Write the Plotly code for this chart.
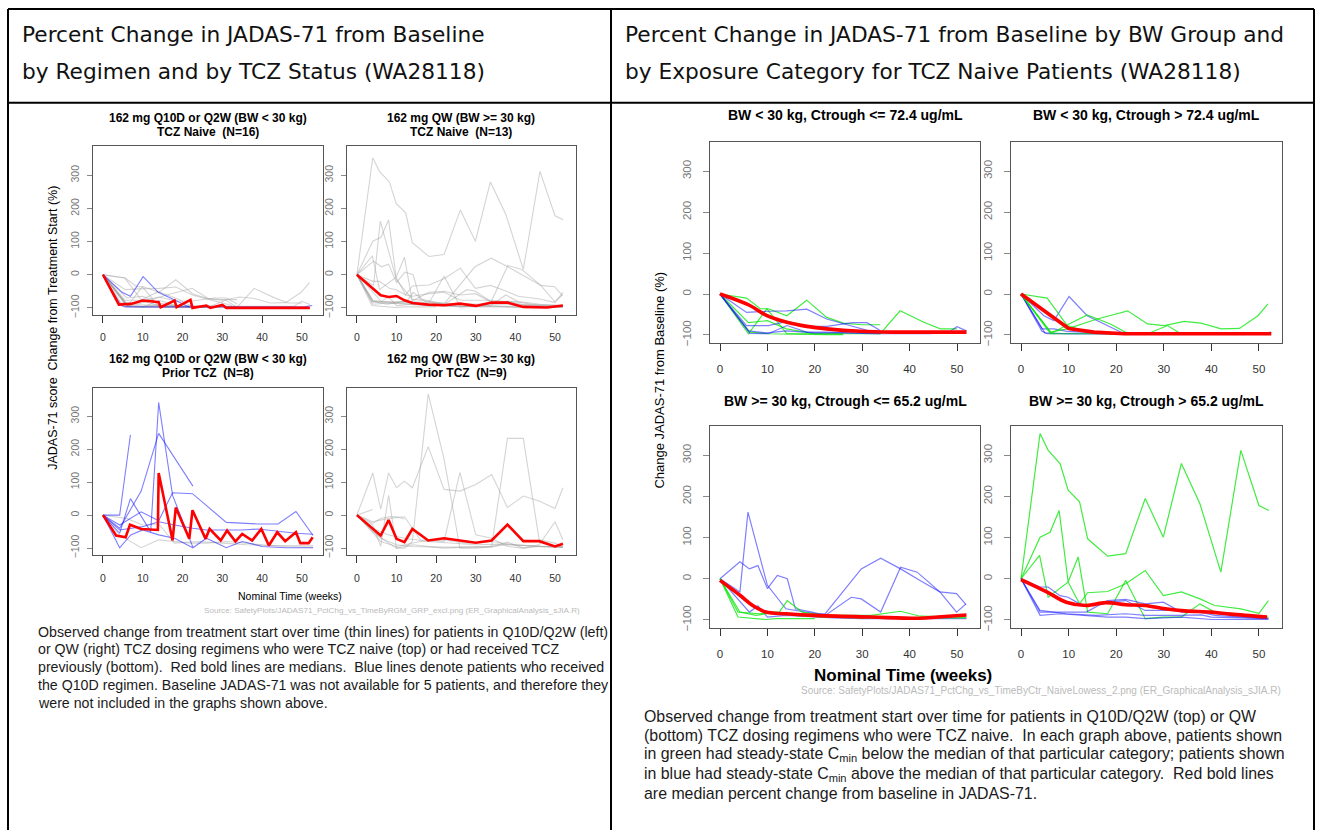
import plotly.graph_objects as go

# ------------------------------------------------------------------ data
WEEK_TICKS = [0, 10, 20, 30, 40, 50]
CHG_TICKS = [-100, 0, 100, 200, 300]

# TCZ-naive patients, BW < 30 kg (162 mg Q10D or Q2W), one row per patient
NAIVE_LT30_WEEKS = [
    [0, 5.6, 8.5, 10.2, 14.1, 18.3, 22.5, 26, 29.9, 33.8],
    [0, 6, 9.9, 14.1, 20, 26, 33.8, 38, 43, 46.5, 50],
    [0, 6.3, 10.2, 14.1, 18.3, 22.5, 26],
    [0, 6, 10, 14, 20, 26],
    [0, 5.6, 10.2, 14.1, 18.3, 22.5, 26.8, 32.4],
    [0, 5.6, 10.2, 14.1, 18.3, 22.5, 28, 31, 33.8],
    [0, 6.3, 10.2, 14.1, 18.3, 22.5, 29, 33.8],
    [0, 6, 10, 14, 20, 26, 32, 38, 44, 48, 50, 52],
    [0, 4.8, 6.9, 10.1, 13.9, 19.5, 21.7],
    [0, 4.4, 6.9, 9.7, 14, 19.5, 23.8],
    [0, 4.4, 5.5, 12, 19, 26, 33.6, 40, 46, 50.5, 52.6],
    [0, 5, 10, 16, 22, 30],
    [0, 5.5, 9.7, 13.9, 19, 22.4],
    [0, 6.2, 10.1, 13.9, 18.8, 22.4, 28],
    [0, 6.2, 9.7, 16, 22.4, 26.6, 30.1, 34.3, 37.8, 42.1, 45.9, 49.8, 51.9],
    [0, 6.5, 12, 20, 26.6, 30.8, 33.6],
]
NAIVE_LT30_CHG = [
    [0, -10, -36, -36, -53, -15, -57, -71, -75, -75],
    [0, -97, -36, -97, -97, -97, -97, -41, -69, -85, -85],
    [0, -93, -97, -98, -98, -99, -99],
    [0, -70, -65, -85, -97, -97],
    [0, -45, -42, -41, -37, -61, -75, -93],
    [0, -77, -77, -67, -79, -79, -70, -70, -89],
    [0, -96, -97, -77, -93, -93, -95, -97],
    [0, -90, -95, -90, -95, -95, -97, -97, -97, -95, -80, -90],
    [0, -53, -65, -6, -53, -85, -97],
    [0, -85, -85, -91, -93, -95, -97],
    [0, -91, -97, -96, -97, -97, -97, -98, -98, -97, -93],
    [0, -95, -97, -97, -98, -98],
    [0, -10, -77, -93, -95, -97],
    [0, -97, -73, -51, -73, -96, -96],
    [0, -93, -85, -61, -41, -73, -77, -67, -71, -85, -84, -53, -24],
    [0, -97, -97, -97, -97, -77, -97],
]
NAIVE_LT30_Q10D = [0, 0, 0, 0, 0, 0, 0, 0, 1, 0, 1, 0, 0, 0, 0, 0]
# 1 = steady-state Ctrough > 72.4 ug/mL
NAIVE_LT30_CTROUGH_HIGH = [0, 0, 0, 0, 0, 0, 0, 0, 1, 1, 1, 1, 1, 1, 1, 1]
# 1 = Cmin below the median of its Ctrough category
NAIVE_LT30_CMIN_LOW = [1, 1, 1, 1, 0, 0, 0, 0, 0, 0, 0, 0, 1, 1, 1, 1]

# TCZ-naive patients, BW >= 30 kg (162 mg QW)
NAIVE_GE30_WEEKS = [
    [0, 4.2, 6.2, 8, 10, 12.1, 14.2, 15.9, 19.4, 22.2, 27.7, 29.8, 33.9, 38.1, 41.6, 46.4, 49.9, 51.9],
    [0, 4.2, 5.9, 10, 13.9, 20.1, 22.2, 29.8, 33.9, 38.1, 42.2, 46.4, 49.9, 51.9],
    [0, 6.2, 8, 10, 13.9, 19.4, 24, 30, 36, 42, 48, 52],
    [0, 3.8, 8.3, 12.5, 14.2, 17.3, 22.2, 31.9, 38.1, 42.2, 51.9],
    [0, 3.8, 9.7, 11.8, 16, 20],
    [0, 4.2, 7.6, 11.8, 15.9, 22.2, 30, 38, 46, 52],
    [0, 4, 5.7, 8.2, 9.9, 12.3, 14, 18.2, 22, 26.1, 29.9, 33.7, 37.6, 42, 46.2, 50, 52.1],
    [0, 4, 6.1, 8, 9.9, 12, 14, 18.2, 22, 26.1, 29.9, 33.7, 37.6, 40.7, 46.2, 52],
    [0, 3.9, 5.7, 8, 9.9, 12.3, 14, 18.2, 22, 26.1, 29.9, 33.7, 37.6, 40.7, 46.2, 50, 52],
    [0, 4, 5.7, 8.2, 9.9, 12.3, 14, 18.2, 22, 26.1, 29.9, 33.7, 37.6, 40.7, 46.2, 52],
    [0, 4, 8.2, 12.3, 18.2, 22, 26.1, 33.7, 37.6, 40, 52],
    [0, 4, 13.7, 18.2, 22, 26.1, 29.9, 33.7, 40, 44, 52],
    [0, 4, 9.5, 15.8, 22, 26.1, 33, 37.9, 40, 51.7],
]
NAIVE_GE30_CHG = [
    [0, 41, 24, 32, -24, 8, 0, -73, -81, -89, -45, -49, -81, 28, 16, -32, -36, -63],
    [0, -32, 162, -16, -73, -85, -85, 24, 50, 24, -4, -32, -81, -61],
    [0, -81, -66, -93, -89, -93, -95, -97, -97, -97, -97, -97],
    [0, -81, -85, -81, -53, -81, -89, -89, -79, -91, -93],
    [0, -93, -99, -97, -97, -97],
    [0, -81, -89, -81, -89, -93, -95, -95, -95, -95],
    [0, 353, 312, 280, 215, 187, 97, 55, 61, 195, 101, 280, 182, 16, 312, 178, 166],
    [0, 101, 113, 166, -8, 53, -81, -85, -4, -97, -93, -93, -61, -81, -89, -93],
    [0, 57, -45, -24, -8, -61, -34, -31, -12, 20, -41, -32, -49, -65, -73, -84, -53],
    [0, -20, -20, -41, -45, -61, -65, -57, -53, -77, -77, -77, -81, -89, -93, -97],
    [0, -89, -85, -89, -93, -93, -97, -93, -97, -99, -99],
    [0, -81, -81, -53, -50, -61, -57, -81, -81, -89, -96],
    [0, -77, -85, -89, -85, -89, -89, -88, -93, -97],
]
# 1 = steady-state Ctrough > 65.2 ug/mL
NAIVE_GE30_CTROUGH_HIGH = [0, 0, 0, 0, 0, 0, 1, 1, 1, 1, 1, 1, 1]
NAIVE_GE30_CMIN_LOW = [0, 0, 0, 1, 1, 1, 1, 1, 1, 0, 0, 0, 0]

# Prior-TCZ patients, BW < 30 kg
PRIOR_LT30_WEEKS = [
    [0, 4.2, 6.9],
    [0, 4.2, 6.9, 9.6, 12, 14, 17.5, 22.6],
    [0, 4.2, 9.6, 14, 22.6],
    [0, 4.2, 9.6, 14, 17.5, 22.5, 31, 39, 44, 48.5, 52.8],
    [0, 4.2, 7, 10, 14, 18, 22.6, 26, 31, 35, 40, 46, 52.8],
    [0, 4.2, 10, 14, 18, 22.6, 26, 31, 35, 39, 44, 48.5, 52.8],
    [0, 4.2, 9.6, 14, 18, 22, 26, 31, 36, 40, 46, 52.8],
    [0, 6, 10, 14, 18, 24, 30, 36, 42, 48, 52.8],
]
PRIOR_LT30_CHG = [
    [0, 0, 243],
    [0, -55, 50, -5, -50, 342, 60, -97],
    [0, -40, 73, 248, 88],
    [0, -30, 10, -17, 68, 65, -22, -27, -27, 11, -62],
    [0, -99, -60, -45, -60, -70, -99, -70, -99, -80, -95, -99, -99],
    [0, -45, -35, -20, -30, -40, -45, -45, -45, -42, -50, -55, -58],
    [0, -60, -99, -75, -80, -85, -85, -80, -85, -90, -95, -98],
    [0, -10, -30, -27, -85, -80, -85, -90, -92, -93, -93],
]
PRIOR_LT30_Q10D = [1, 1, 1, 1, 1, 1, 0, 0]

# Prior-TCZ patients, BW >= 30 kg
PRIOR_GE30_WEEKS = [
    [0, 4, 6, 8, 10, 12, 14, 18, 22, 26, 30, 34, 38, 42, 46, 50, 52],
    [0, 4, 6, 8, 10, 12, 14, 18, 22, 26, 30, 34, 38, 42, 46, 50, 52],
    [0, 4, 8, 12, 16, 22, 26, 30, 34, 38, 42, 46, 50, 52],
    [0, 4],
    [0, 4, 6, 8, 10, 12],
    [0, 4, 8, 10, 14, 18, 22, 26, 30, 34, 38, 42, 46, 50, 52],
    [0, 6, 10, 14, 20, 26, 32, 38, 44, 50, 52],
    [0, 4, 8, 12, 18, 24, 30, 36, 42, 48, 52],
    [0, 6, 10, 16, 22, 28, 34, 40, 46, 52],
]
PRIOR_GE30_CHG = [
    [0, 128, 18, 128, 83, 103, 83, 208, 78, 73, 93, 123, 23, 58, 43, 20, 83],
    [0, -30, -95, 60, -100, -100, -80, 368, 170, -100, -100, -95, 233, 233, -75, -85, -95],
    [0, -20, -10, -5, -75, -80, 130, -60, -70, -95, -100, -95, -95, -98],
    [0, 17],
    [0, -25, -10, -5, -5, -12],
    [0, -50, -85, -100, -90, -95, -100, -98, -95, -97, -82, -100, -90, -20, -75],
    [0, -70, -90, -95, -97, -98, -97, -90, -95, -98, -98],
    [0, -40, -60, -70, -80, -85, -90, -88, -92, -95, -95],
    [0, -80, -95, -80, -75, -85, -80, -90, -95, -97],
]

# Median percent change by nominal week
MED_NAIVE_LT30_WEEKS = [0, 4, 7, 10, 12, 14, 14.5, 18, 18.5, 22, 22.5, 26, 27, 30, 31, 40, 52]
MED_NAIVE_LT30_CHG = [0, -90, -88, -78, -80, -83, -98, -78, -98, -76, -100, -93, -100, -91, -100, -100, -100]
MED_NAIVE_GE30_WEEKS = [0, 4, 6, 8, 10, 12, 14, 18, 22, 26, 30, 34, 38, 42, 48, 52]
MED_NAIVE_GE30_CHG = [0, -40, -62, -67, -64, -77, -85, -90, -92, -87, -94, -84, -84, -97, -99, -93]
MED_PRIOR_LT30_WEEKS = [0, 3.3, 5.7, 6.8, 9.6, 13.8, 14, 17.5, 18.3, 21.7, 22.5, 25.8, 26.8, 29.6, 31.2,
                        33.3, 35, 37.5, 39.8, 41.7, 43.8, 45.8, 48.5, 49.6, 51.7, 52.7]
MED_PRIOR_LT30_CHG = [0, -62, -67, -29, -42, -45, 128, -77, 23, -72, 15, -72, -42, -77, -47,
                      -80, -57, -77, -42, -92, -52, -79, -52, -85, -85, -67]
MED_PRIOR_GE30_WEEKS = [0, 6, 8, 10, 12, 14, 18, 22, 26, 30, 34, 38, 42, 46, 50, 52]
MED_PRIOR_GE30_CHG = [0, -62, -15, -72, -82, -42, -77, -70, -77, -84, -77, -29, -79, -79, -95, -87]

# Smoothed (lowess) median by exposure category
LOWESS_LT30_LO_WEEKS = [0, 6.3, 9.9, 14.1, 18.3, 22.5, 29.6, 36.6, 44, 52]
LOWESS_LT30_LO_CHG = [0, -28, -53, -69, -79, -85, -91, -93, -93, -93]
LOWESS_LT30_HI_WEEKS = [0, 10, 15.3, 21.7, 52.6]
LOWESS_LT30_HI_CHG = [0, -84, -93, -97, -97]
LOWESS_GE30_LO_WEEKS = [0, 4.2, 6.9, 9.7, 13.9, 20, 31.9, 42, 46, 52]
LOWESS_GE30_LO_CHG = [-4, -40, -65, -81, -85, -89, -93, -96, -93, -88]
LOWESS_GE30_HI_WEEKS = [0, 5.4, 9.5, 13.7, 17.8, 22, 26.1, 30.3, 34.4, 40, 44.1, 51.7]
LOWESS_GE30_HI_CHG = [-2, -32, -57, -65, -58, -63, -65, -73, -78, -81, -86, -93]

# ------------------------------------------------------------------ styling
FIG_W, FIG_H = 1321, 833
ARIAL = "Liberation Sans, Arial, sans-serif"
VERDANA = "DejaVu Sans, Verdana, sans-serif"
GREY = "rgba(160,160,160,0.45)"
BLUE = "rgba(20,20,255,0.55)"
GREEN = "rgba(0,230,0,0.75)"
RED = "#ff0000"


def fx(px):
    return px / FIG_W


def fy(py):
    return 1 - py / FIG_H


# panel boxes in page pixels: (left, top, right, bottom), axis ranges
LEFT_X = [-2.5, 55.3]
LEFT_Y = [-121, 387]
RIGHT_X = [-2.11, 54.85]
RIGHT_Y = [-119, 370]
PANELS = [
    ((93, 147, 323, 316), LEFT_X, LEFT_Y, "left"),
    ((347, 147, 576, 316), LEFT_X, LEFT_Y, "left"),
    ((93, 389, 323, 557), LEFT_X, LEFT_Y, "left"),
    ((347, 389, 576, 557), LEFT_X, LEFT_Y, "left"),
    ((710, 143, 980, 344), RIGHT_X, RIGHT_Y, "right"),
    ((1011, 143, 1282, 344), RIGHT_X, RIGHT_Y, "right"),
    ((710, 428, 980, 630), RIGHT_X, RIGHT_Y, "right"),
    ((1011, 428, 1282, 630), RIGHT_X, RIGHT_Y, "right"),
]

fig = go.Figure()


def axis_ids(k):
    return ("x" if k == 1 else f"x{k}"), ("y" if k == 1 else f"y{k}")


def add_line(k, weeks, chg, color, width=1.1, shape="linear"):
    xa, ya = axis_ids(k)
    fig.add_trace(go.Scatter(
        x=weeks, y=chg, mode="lines", xaxis=xa, yaxis=ya,
        line=dict(color=color, width=width, shape=shape),
        hoverinfo="skip", showlegend=False))


# Panel 1: TCZ naive, BW < 30 kg (grey = Q2W, blue = Q10D)
for w, c, q in zip(NAIVE_LT30_WEEKS, NAIVE_LT30_CHG, NAIVE_LT30_Q10D):
    if not q:
        add_line(1, w, c, GREY)
for w, c, q in zip(NAIVE_LT30_WEEKS, NAIVE_LT30_CHG, NAIVE_LT30_Q10D):
    if q:
        add_line(1, w, c, BLUE)
add_line(1, MED_NAIVE_LT30_WEEKS, MED_NAIVE_LT30_CHG, RED, 2.6)

# Panel 2: TCZ naive, BW >= 30 kg
for w, c in zip(NAIVE_GE30_WEEKS, NAIVE_GE30_CHG):
    add_line(2, w, c, GREY)
add_line(2, MED_NAIVE_GE30_WEEKS, MED_NAIVE_GE30_CHG, RED, 2.6)

# Panel 3: prior TCZ, BW < 30 kg
for w, c, q in zip(PRIOR_LT30_WEEKS, PRIOR_LT30_CHG, PRIOR_LT30_Q10D):
    if not q:
        add_line(3, w, c, GREY)
for w, c, q in zip(PRIOR_LT30_WEEKS, PRIOR_LT30_CHG, PRIOR_LT30_Q10D):
    if q:
        add_line(3, w, c, BLUE)
add_line(3, MED_PRIOR_LT30_WEEKS, MED_PRIOR_LT30_CHG, RED, 2.6)

# Panel 4: prior TCZ, BW >= 30 kg
for w, c in zip(PRIOR_GE30_WEEKS, PRIOR_GE30_CHG):
    add_line(4, w, c, GREY)
add_line(4, MED_PRIOR_GE30_WEEKS, MED_PRIOR_GE30_CHG, RED, 2.6)

# Panels 5-8: TCZ naive split by Ctrough category, coloured by Cmin vs category median
for k, weeks, chg, hi, low, want_hi in [
    (5, NAIVE_LT30_WEEKS, NAIVE_LT30_CHG, NAIVE_LT30_CTROUGH_HIGH, NAIVE_LT30_CMIN_LOW, 0),
    (6, NAIVE_LT30_WEEKS, NAIVE_LT30_CHG, NAIVE_LT30_CTROUGH_HIGH, NAIVE_LT30_CMIN_LOW, 1),
    (7, NAIVE_GE30_WEEKS, NAIVE_GE30_CHG, NAIVE_GE30_CTROUGH_HIGH, NAIVE_GE30_CMIN_LOW, 0),
    (8, NAIVE_GE30_WEEKS, NAIVE_GE30_CHG, NAIVE_GE30_CTROUGH_HIGH, NAIVE_GE30_CMIN_LOW, 1),
]:
    for w, c, h, lo in zip(weeks, chg, hi, low):
        if h == want_hi:
            add_line(k, w, c, GREEN if lo else BLUE, 1.2)

add_line(5, LOWESS_LT30_LO_WEEKS, LOWESS_LT30_LO_CHG, RED, 3.6, "spline")
add_line(6, LOWESS_LT30_HI_WEEKS, LOWESS_LT30_HI_CHG, RED, 3.6)
add_line(7, LOWESS_GE30_LO_WEEKS, LOWESS_GE30_LO_CHG, RED, 3.6, "spline")
add_line(8, LOWESS_GE30_HI_WEEKS, LOWESS_GE30_HI_CHG, RED, 3.6, "spline")

# ------------------------------------------------------------------ axes
layout_axes = {}
for k, (box, xr, yr, side) in enumerate(PANELS, start=1):
    x0, y0, x1, y1 = box
    xa, ya = axis_ids(k)
    small = side == "left"
    layout_axes["xaxis" + ("" if k == 1 else str(k))] = dict(
        domain=[fx(x0), fx(x1)], anchor=ya, range=xr,
        tickmode="array", tickvals=WEEK_TICKS,
        ticks="outside", ticklen=7, tickcolor="#333", tickwidth=1,
        ticklabelstandoff=6 if small else 8,
        tickfont=dict(family=ARIAL, size=10.5 if small else 11.5, color="#333"),
        showline=True, mirror=True, linecolor="#555", linewidth=1,
        showgrid=False, zeroline=False, fixedrange=True)
    layout_axes["yaxis" + ("" if k == 1 else str(k))] = dict(
        domain=[fy(y1), fy(y0)], anchor=xa, range=yr,
        tickmode="array", tickvals=CHG_TICKS, tickangle=-90,
        ticks="outside", ticklen=5 if small else 6, tickcolor="#888", tickwidth=1,
        ticklabelstandoff=4 if small else 7,
        tickfont=dict(family=ARIAL, size=10.5 if small else 11.5, color="#777"),
        showline=True, mirror=True, linecolor="#555", linewidth=1,
        showgrid=False, zeroline=False, fixedrange=True)

# ------------------------------------------------------------------ text
notes = []


def text(x, y, s, size, family=ARIAL, color="#000", xanchor="left", angle=0):
    notes.append(dict(
        x=fx(x), y=fy(y), xref="paper", yref="paper", text=s, showarrow=False,
        xanchor=xanchor, yanchor="middle", textangle=angle,
        font=dict(family=family, size=size, color=color)))


# table header
text(20, 35, "Percent Change in JADAS-71 from Baseline", 21.7, VERDANA, "#111")
text(20, 72, "by Regimen and by TCZ Status (WA28118)", 21.7, VERDANA, "#111")
text(623, 35, "Percent Change in JADAS-71 from Baseline by BW Group and", 21.7, VERDANA, "#111")
text(623, 72, "by Exposure Category for TCZ Naive Patients (WA28118)", 21.7, VERDANA, "#111")

# left-hand panel titles
for cx, top, l1, l2 in [
    (208, 118, "162 mg Q10D or Q2W (BW &lt; 30 kg)", "TCZ Naive\u00a0 (N=16)"),
    (461, 118, "162 mg QW (BW &gt;= 30 kg)", "TCZ Naive\u00a0 (N=13)"),
    (208, 360, "162 mg Q10D or Q2W (BW &lt; 30 kg)", "Prior TCZ\u00a0 (N=8)"),
    (461, 360, "162 mg QW (BW &gt;= 30 kg)", "Prior TCZ\u00a0 (N=9)"),
]:
    text(cx, top, "<b>" + l1 + "</b>", 12, xanchor="center")
    text(cx, top + 14, "<b>" + l2 + "</b>", 12, xanchor="center")

# right-hand panel titles
for cx, cy, s in [
    (845, 115, "BW &lt; 30 kg, Ctrough &lt;= 72.4 ug/mL"),
    (1146, 115, "BW &lt; 30 kg, Ctrough &gt; 72.4 ug/mL"),
    (845, 402, "BW &gt;= 30 kg, Ctrough &lt;= 65.2 ug/mL"),
    (1146, 402, "BW &gt;= 30 kg, Ctrough &gt; 65.2 ug/mL"),
]:
    text(cx, cy, "<b>" + s + "</b>", 14, xanchor="center")

# axis titles
text(53, 329, "JADAS-71 score\u00a0 Change from Treatment Start (%)", 12.5, angle=-90, xanchor="center")
text(290, 598, "Nominal Time (weeks)", 10.5, xanchor="center")
text(660, 382, "Change JADAS-71 from Baseline (%)", 13, angle=-90, xanchor="center")
text(903, 678, "<b>Nominal Time (weeks)</b>", 17, xanchor="center")

# source notes
text(582, 613, "Source: SafetyPlots/JADAS71_PctChg_vs_TimeByRGM_GRP_excl.png (ER_GraphicalAnalysis_sJIA.R)",
     8.1, color="#bbb", xanchor="right")
text(1283, 693, "Source: SafetyPlots/JADAS71_PctChg_vs_TimeByCtr_NaiveLowess_2.png (ER_GraphicalAnalysis_sJIA.R)",
     10, color="#bbb", xanchor="right")

# captions
LEFT_CAPTION = [
    "Observed change from treatment start over time (thin lines) for patients in Q10D/Q2W (left)",
    "or QW (right) TCZ dosing regimens who were TCZ naive (top) or had received TCZ",
    "previously (bottom).\u00a0 Red bold lines are medians.\u00a0 Blue lines denote patients who received",
    "the Q10D regimen. Baseline JADAS-71 was not available for 5 patients, and therefore they",
    "were not included in the graphs shown above.",
]
RIGHT_CAPTION = [
    "Observed change from treatment start over time for patients in Q10D/Q2W (top) or QW",
    "(bottom) TCZ dosing regimens who were TCZ naive.\u00a0 In each graph above, patients shown",
    "in green had steady-state C<sub>min</sub> below the median of that particular category; patients shown",
    "in blue had steady-state C<sub>min</sub> above the median of that particular category.\u00a0 Red bold lines",
    "are median percent change from baseline in JADAS-71.",
]
for i, s in enumerate(LEFT_CAPTION):
    text(36, 634 + i * 17.8, s, 14.2, color="#1a1a1a")
for i, s in enumerate(RIGHT_CAPTION):
    text(642, 719 + i * 19.3, s, 15.9, color="#1a1a1a")

# ------------------------------------------------------------------ table rules
rules = []
for x0, y0, x1, y1, w in [
    (8, 9, 1314, 9, 2),
    (8, 103, 1314, 103, 2),
    (8, 9, 8, 833, 2),
    (611, 9, 611, 833, 2),
    (1314, 9, 1314, 833, 2),
]:
    rules.append(dict(type="line", xref="paper", yref="paper",
                      x0=fx(x0), y0=fy(y0), x1=fx(x1), y1=fy(y1),
                      line=dict(color="#000", width=w)))

fig.update_layout(
    width=FIG_W, height=FIG_H, margin=dict(l=0, r=0, t=0, b=0),
    paper_bgcolor="white", plot_bgcolor="white",
    showlegend=False, annotations=notes, shapes=rules, **layout_axes)

fig.write_html("out.html", config={"displayModeBar": False})
